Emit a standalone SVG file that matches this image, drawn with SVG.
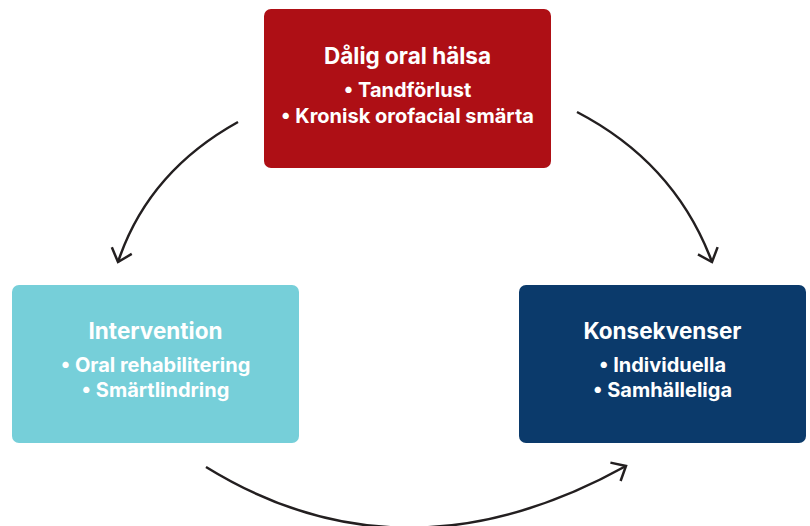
<svg xmlns="http://www.w3.org/2000/svg" width="810" height="526" viewBox="0 0 810 526">
<defs>
<style>
.box-title{font-family:Inter,"Open Sans","Liberation Sans",sans-serif;font-weight:700;font-size:22.5px;fill:#ffffff;text-anchor:middle}
.box-item{font-family:Inter,"Open Sans","Liberation Sans",sans-serif;font-weight:700;font-size:20px;fill:#ffffff;text-anchor:middle}
.conn{fill:none;stroke:#231f20;stroke-width:2.5;stroke-linecap:butt}
</style>
<marker id="arrow" markerUnits="userSpaceOnUse" markerWidth="30" markerHeight="30" refX="0" refY="0" viewBox="-15 -15 30 30" orient="auto" overflow="visible">
<path d="M-12,-10.5 L0,0 L-12,10.5" fill="none" stroke="#231f20" stroke-width="2.5" stroke-linejoin="miter"/>
</marker>
</defs>
<rect width="810" height="526" fill="#ffffff"/>
<g id="connectors">
<path class="conn" d="M238,122 Q148,172 118,262" marker-end="url(#arrow)"/>
<path class="conn" d="M577,112 Q675,163 712,262" marker-end="url(#arrow)"/>
<path class="conn" d="M206,467 Q404,589 626,466" marker-end="url(#arrow)"/>
</g>
<g id="node-dalig">
<rect x="264" y="9" width="287" height="159" rx="7" fill="#ae0f15"/>
<text class="box-title" x="407.5" y="64">Dålig oral hälsa</text>
<text class="box-item" x="407.5" y="97">• Tandförlust</text>
<text class="box-item" x="407.5" y="122.5">• Kronisk orofacial smärta</text>
</g>
<g id="node-intervention">
<rect x="12" y="285" width="287" height="158" rx="7" fill="#76cfd9"/>
<text class="box-title" x="155.5" y="339">Intervention</text>
<text class="box-item" x="155.5" y="372">• Oral rehabilitering</text>
<text class="box-item" x="155.5" y="397">• Smärtlindring</text>
</g>
<g id="node-konsekvenser">
<rect x="519" y="285" width="287" height="158" rx="7" fill="#0b3a6b"/>
<text class="box-title" x="662.5" y="339">Konsekvenser</text>
<text class="box-item" x="662.5" y="372">• Individuella</text>
<text class="box-item" x="662.5" y="397">• Samhälleliga</text>
</g>
</svg>
